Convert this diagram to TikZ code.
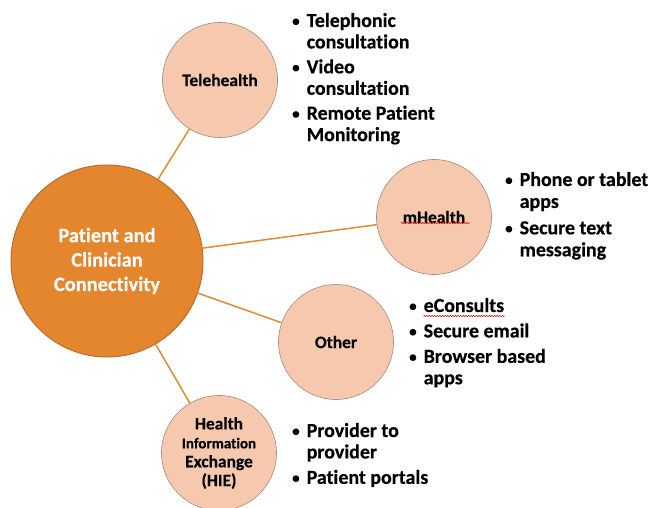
\documentclass[tikz,border=0pt]{standalone}
\usepackage{fontspec}
\setmainfont{Carlito}[Ligatures=NoCommon, BoldFeatures={FakeBold=0.4}]
\usetikzlibrary{decorations.pathmorphing,calc}
\definecolor{mainor}{HTML}{E3862E}
\definecolor{mainbd}{HTML}{B86E2A}
\definecolor{peach}{HTML}{F6C9AF}
\definecolor{peachbd}{HTML}{A88A7C}
\definecolor{linkc}{HTML}{E08A35}
\newcommand\bul{\makebox[14.5bp][l]{\raisebox{1bp}{\fontsize{15}{15}\selectfont\textbullet}}}
\begin{document}
\begin{tikzpicture}[x=1bp,y=-1bp,
  hub/.style={circle, fill=mainor, draw=mainbd, line width=1bp, minimum size=192bp,
    inner sep=0pt, text=white, align=center, font=\bfseries\fontsize{20.5}{24.5}\selectfont},
  sub/.style={circle, fill=peach, draw=peachbd, line width=0.6bp, minimum size=115bp,
    inner sep=0pt, align=center, font=\bfseries\fontsize{17.5}{19}\selectfont},
  link/.style={draw=linkc, line width=1.5bp},
  blist/.style={anchor=base west, inner sep=0pt, align=left,
    font=\bfseries\fontsize{20}{21.5}\selectfont},
  squiggle/.style={draw=red!85!black, line width=0.5bp,
    decorate, decoration={snake, amplitude=0.7bp, segment length=2.6bp}}]
\useasboundingbox (0,0) rectangle (652,508);

\node[hub] (main) at (107,261) {Patient and\\Clinician\\Connectivity};
\node[sub] (tele) at (220,80) {Telehealth};
\node[sub] (mh) at (434,217) {mHealth};
\node[sub] (oth) at (336,342) {Other};
\node[sub] (hie) at (219,453) {Health\\{\fontsize{15}{19}\selectfont Information}\\Exchange\\(HIE)};

\draw[link] (main) -- (tele);
\draw[link] (main) -- (mh);
\draw[link] (main) -- (oth);
\draw[link] (main) -- (hie);

\node[blist] (tl) at (292,27) {\begin{tabular}[t]{@{}l@{}l@{}}
\bul & Telephonic\\ & consultation\\[3.5bp]
\bul & Video\\ & consultation\\[3.5bp]
\bul & Remote Patient\\ & Monitoring\end{tabular}};

\node[blist, font=\bfseries\fontsize{20}{22}\selectfont] (ml) at (505,186) {\begin{tabular}[t]{@{}l@{}l@{}}
\bul & Phone or tablet\\ & apps\\[4.5bp]
\bul & Secure text\\ & messaging\end{tabular}};

\node[blist] (ol) at (409,312) {\begin{tabular}[t]{@{}l@{}l@{}}
\bul & eConsults\\[4bp]
\bul & Secure email\\[4bp]
\bul & Browser based\\ & apps\end{tabular}};

\node[blist] (hl) at (292,437) {\begin{tabular}[t]{@{}l@{}l@{}}
\bul & Provider to\\ & provider\\[4bp]
\bul & Patient portals\end{tabular}};

\draw[squiggle] ($(mh.center)+(-33,6)$) -- ($(mh.center)+(36,6)$);
\draw[squiggle] (423.5,316) -- (505,316);
\end{tikzpicture}
\end{document}
